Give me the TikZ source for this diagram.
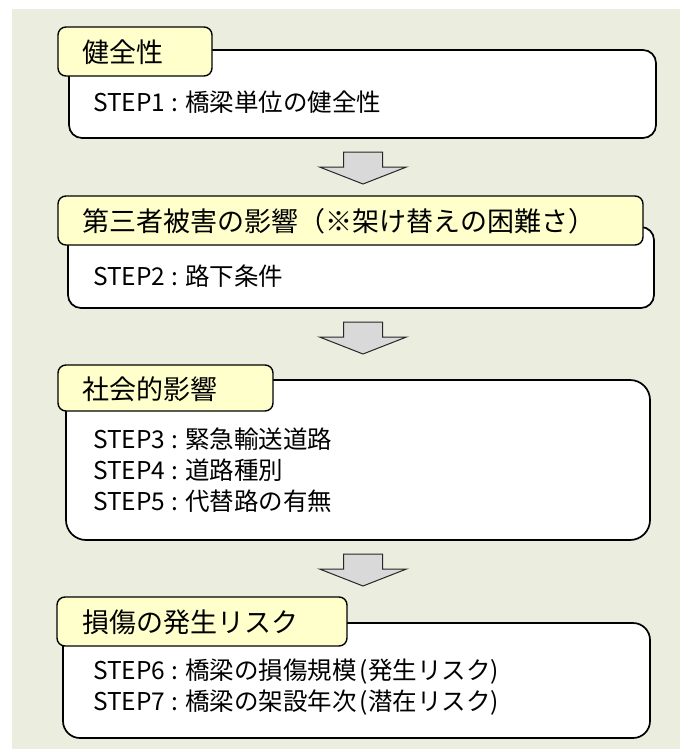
\documentclass[tikz,border=0pt]{standalone}
\usepackage{fontspec}
\setmainfont{Noto Sans CJK JP}
\usetikzlibrary{positioning}
\definecolor{bgc}{HTML}{EBEEDF}
\definecolor{tabc}{HTML}{FFFFCC}
\definecolor{arrc}{HTML}{D9D9D9}
\newcommand{\stepcolon}{\hspace{6.5pt}:\hspace{6.5pt}}
\tikzset{
  bodybox/.style={draw=black, line width=1.7pt, fill=white, inner sep=0pt},
  tabbox/.style={draw=black, line width=1.4pt, fill=tabc, rounded corners=8pt, inner sep=0pt},
  titletext/.style={anchor=west, inner sep=0pt, font=\fontsize{27}{30}\selectfont},
  steptext/.style={anchor=west, inner sep=0pt, font=\fontsize{24.5}{26}\selectfont},
  blockarrow/.pic={
    \draw[draw=black!85, line width=1pt, fill=arrc, line join=miter]
      (-19.5,0) -- (19.5,0) -- (19.5,15) -- (43.5,15) -- (0,32)
      -- (-43.5,15) -- (-19.5,15) -- cycle;
  }
}
\begin{document}
\begin{tikzpicture}[x=1pt,y=-1pt]
\useasboundingbox (0,0) rectangle (680,752);
\fill[bgc] (12,9) rectangle (680,749);

% boxes (bodies)
\node[bodybox, rounded corners=13pt, minimum width=587pt, minimum height=88pt] (b1) at (362.5,94) {};
\node[bodybox, rounded corners=13pt, minimum width=586pt, minimum height=81pt] (b2) at (361,267.5) {};
\node[bodybox, rounded corners=20pt, minimum width=584pt, minimum height=160pt] (b3) at (358,460) {};
\node[bodybox, rounded corners=17pt, minimum width=587pt, minimum height=115pt] (b4) at (356.5,680.5) {};

% tabs
\node[tabbox, minimum width=154pt, minimum height=49pt] (t1) at (135,51.5) {};
\node[tabbox, minimum width=585pt, minimum height=49pt] (t2) at (350.5,220.5) {};
\node[tabbox, minimum width=215pt, minimum height=46pt] (t3) at (165.5,388) {};
\node[tabbox, minimum width=290pt, minimum height=49pt] (t4) at (202,621.5) {};

% titles
\node[titletext] (h1) at (82,52) {健全性};
\node[titletext] (h2) at (82,221) {第三者被害の影響（※架け替えの困難さ）};
\node[titletext] (h3) at (82,389) {社会的影響};
\node[titletext] (h4) at (82,622) {損傷の発生リスク};

% step lines
\node[steptext] (s1) at (93,102) {STEP1\stepcolon 橋梁単位の健全性};
\node[steptext] (s2) at (93,276) {STEP2\stepcolon 路下条件};
\node[steptext] (s3) at (93,439) {STEP3\stepcolon 緊急輸送道路};
\node[steptext] (s4) at (93,470) {STEP4\stepcolon 道路種別};
\node[steptext] (s5) at (93,501) {STEP5\stepcolon 代替路の有無};
\node[steptext] (s6) at (93,672) {STEP6\stepcolon 橋梁の損傷規模\hspace{3pt}(発生リスク)};
\node[steptext] (s7) at (93,703) {STEP7\stepcolon 橋梁の架設年次\hspace{3pt}(潜在リスク)};

% arrows between boxes
\coordinate (a1) at (363,152);
\coordinate (a2) at (363,322);
\coordinate (a3) at (363,554);
\pic at (a1) {blockarrow};
\pic at (a2) {blockarrow};
\pic at (a3) {blockarrow};
\end{tikzpicture}
\end{document}
